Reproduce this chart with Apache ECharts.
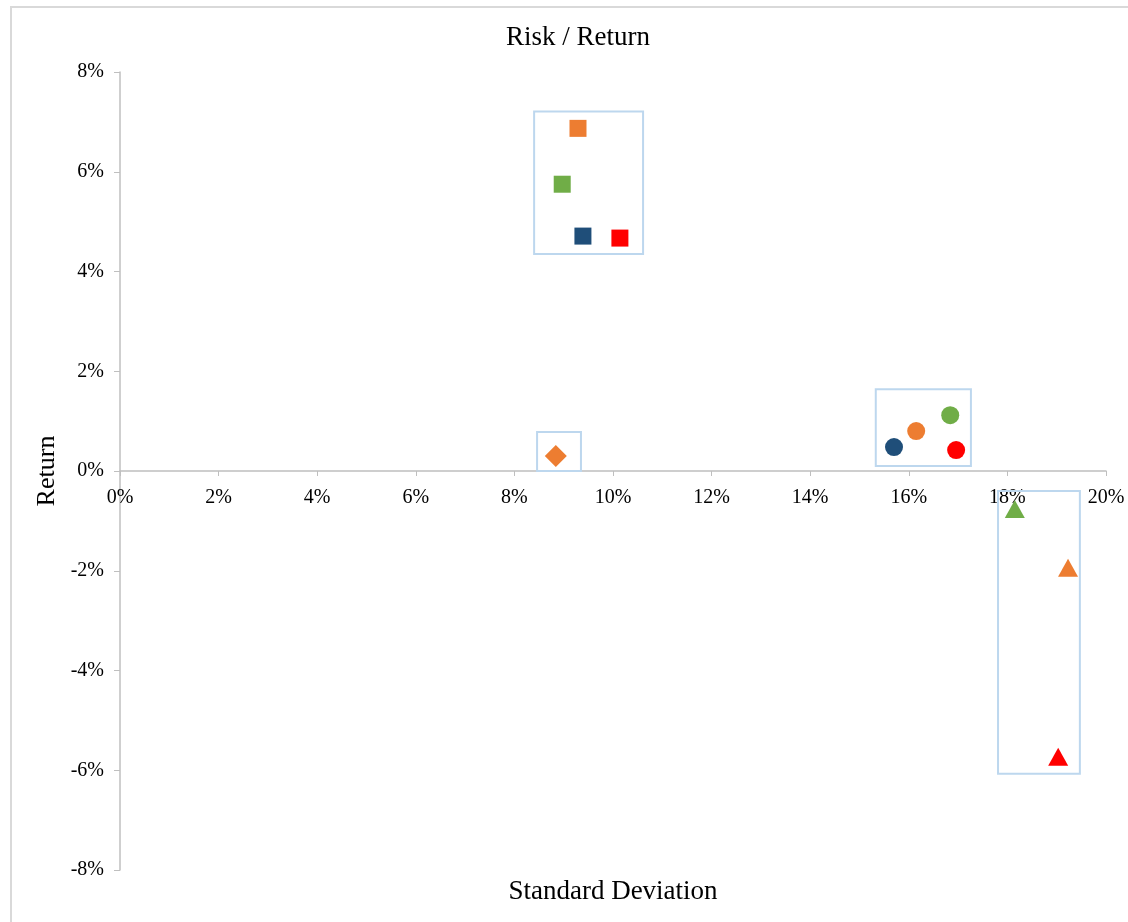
<!DOCTYPE html>
<html>
<head>
<meta charset="utf-8">
<script src="https://cdn.jsdelivr.net/npm/echarts@6/dist/echarts.min.js"></script>
<style>
  html, body { margin: 0; padding: 0; background: #fff; }
  #chart { width: 1128px; height: 922px; }
</style>
</head>
<body>
<div id="chart"></div>
<script>
// Risk (standard deviation, %) vs. return (%) for each holding
const xTicks = [0, 2, 4, 6, 8, 10, 12, 14, 16, 18, 20];
const yTicks = [-8, -6, -4, -2, 0, 2, 4, 6, 8];

const palette = { navy: '#1F4E79', orange: '#ED7D31', green: '#70AD47', red: '#FF0000' };

// Square group
const squareStd = [9.39, 9.29, 8.97, 10.14];
const squareRet = [4.71, 6.87, 5.75, 4.67];
const squareColor = ['navy', 'orange', 'green', 'red'];

// Diamond group
const diamondStd = [8.84];
const diamondRet = [0.30];
const diamondColor = ['orange'];

// Circle group
const circleStd = [15.70, 16.15, 16.84, 16.96];
const circleRet = [0.48, 0.80, 1.12, 0.42];
const circleColor = ['navy', 'orange', 'green', 'red'];

// Triangle group
const triangleStd = [18.15, 19.23, 19.03];
const triangleRet = [-0.76, -1.94, -5.73];
const triangleColor = ['green', 'orange', 'red'];

// Outline boxes around each group: [xFrom, yFrom, xTo, yTo]
const groupBoxes = [
  [8.40, 7.21, 10.61, 4.35],
  [8.46, 0.78, 9.35, 0.00],
  [15.33, 1.64, 17.26, 0.10],
  [17.81, -0.40, 19.47, -6.07]
];

function pointsOf(xs, ys, cs) {
  return xs.map((x, i) => ({ value: [x, ys[i]], itemStyle: { color: palette[cs[i]], opacity: 1 } }));
}

const serif = '"Liberation Serif", "Times New Roman", serif';
const gridTop = 72, gridBottom = 52, chartH = 922;
// distance from the bottom edge of the plot to the zero-return line
const zeroOffset = (chartH - gridTop - gridBottom) * (0 - yTicks[0]) / (yTicks[yTicks.length - 1] - yTicks[0]);

const option = {
  animation: false,
  backgroundColor: '#fff',
  title: {
    text: 'Risk / Return',
    left: 573,
    top: 19,
    textAlign: 'center',
    textStyle: { fontFamily: serif, fontSize: 27, fontWeight: 'normal', color: '#000' }
  },
  graphic: [
    {
      type: 'polyline',
      shape: { points: [[11, 922], [11, 7], [1128, 7]] },
      style: { stroke: '#D9D9D9', lineWidth: 2, fill: null },
      silent: true
    }
  ],
  grid: { left: 120, right: 22, top: gridTop, bottom: gridBottom, outerBoundsMode: 'none', containLabel: false },
  xAxis: [
    {
      // axis drawn through the zero-return line
      type: 'value',
      position: 'bottom',
      offset: -zeroOffset,
      min: xTicks[0],
      max: xTicks[xTicks.length - 1],
      interval: 2,
      axisLine: { onZero: false, lineStyle: { color: '#BFBFBF', width: 1.5 } },
      axisTick: { show: true, inside: false, length: 5, lineStyle: { color: '#BFBFBF' } },
      axisLabel: { formatter: '{value}%', fontFamily: serif, fontSize: 20, color: '#000', margin: 17 },
      splitLine: { show: false }
    },
    {
      // carries the axis title along the bottom of the plot
      type: 'value',
      position: 'bottom',
      min: xTicks[0],
      max: xTicks[xTicks.length - 1],
      interval: 2,
      name: 'Standard Deviation',
      nameLocation: 'middle',
      nameGap: 8,
      nameTextStyle: { fontFamily: serif, fontSize: 27, color: '#000' },
      axisLine: { show: false, onZero: false },
      axisTick: { show: false },
      axisLabel: { show: false },
      splitLine: { show: false }
    }
  ],
  yAxis: {
    type: 'value',
    min: yTicks[0],
    max: yTicks[yTicks.length - 1],
    interval: 2,
    name: 'Return',
    nameLocation: 'middle',
    nameGap: 60,
    nameRotate: 90,
    nameTextStyle: { fontFamily: serif, fontSize: 26, color: '#000' },
    axisLine: { show: true, onZero: false, lineStyle: { color: '#BFBFBF', width: 1.5 } },
    axisTick: { show: true, inside: false, length: 6, lineStyle: { color: '#BFBFBF' } },
    axisLabel: { formatter: '{value}%', fontFamily: serif, fontSize: 20, color: '#000', margin: 16, padding: [4, 0, 0, 0] },
    splitLine: { show: false }
  },
  series: [
    {
      type: 'scatter',
      xAxisIndex: 0,
      symbol: 'rect',
      symbolSize: 17,
      data: pointsOf(squareStd, squareRet, squareColor),
      markArea: {
        silent: true,
        itemStyle: { color: 'rgba(0,0,0,0)', borderColor: '#BDD7EE', borderWidth: 2 },
        data: groupBoxes.map(b => [{ coord: [b[0], b[1]] }, { coord: [b[2], b[3]] }])
      }
    },
    {
      type: 'scatter',
      xAxisIndex: 0,
      symbol: 'diamond',
      symbolSize: [22, 22],
      data: pointsOf(diamondStd, diamondRet, diamondColor)
    },
    {
      type: 'scatter',
      xAxisIndex: 0,
      symbol: 'circle',
      symbolSize: 18,
      data: pointsOf(circleStd, circleRet, circleColor)
    },
    {
      type: 'scatter',
      xAxisIndex: 0,
      symbol: 'triangle',
      symbolSize: [20, 18],
      data: pointsOf(triangleStd, triangleRet, triangleColor)
    }
  ]
};

const chart = echarts.init(document.getElementById('chart'), null, { renderer: 'canvas' });
chart.setOption(option);
</script>
</body>
</html>
